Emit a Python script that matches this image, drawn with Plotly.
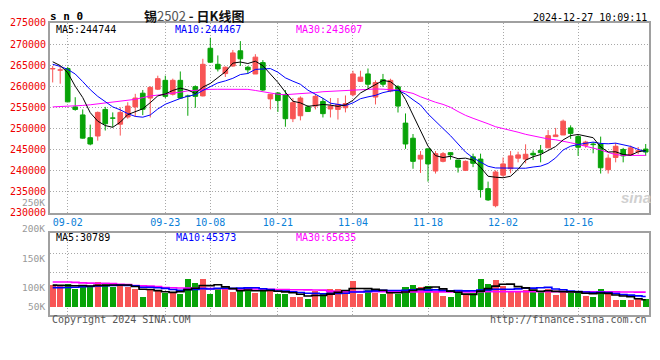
import plotly.graph_objects as go

# ---------------- data ----------------
dates = ["08-29", "08-30",
         "09-02", "09-03", "09-04", "09-05", "09-06",
         "09-09", "09-10", "09-11", "09-12", "09-13",
         "09-18", "09-19", "09-20",
         "09-23", "09-24", "09-25", "09-26", "09-27",
         "09-30",
         "10-08", "10-09", "10-10", "10-11",
         "10-14", "10-15", "10-16", "10-17", "10-18",
         "10-21", "10-22", "10-23", "10-24", "10-25",
         "10-28", "10-29", "10-30", "10-31", "11-01",
         "11-04", "11-05", "11-06", "11-07", "11-08",
         "11-11", "11-12", "11-13", "11-14", "11-15",
         "11-18", "11-19", "11-20", "11-21", "11-22",
         "11-25", "11-26", "11-27", "11-28", "11-29",
         "12-02", "12-03", "12-04", "12-05", "12-06",
         "12-09", "12-10", "12-11", "12-12", "12-13",
         "12-16", "12-17", "12-18", "12-19", "12-20",
         "12-23", "12-24", "12-25", "12-26", "12-27"]

opens = [264100, 263800, 264200, 255100, 253200, 247800, 248200, 254500, 252500, 251000,
         252700, 255100, 258350, 257200, 259300, 261400, 258100, 261400, 257700, 259900,
         257700, 269000, 265200, 263000, 264800, 268400, 264500, 262900, 265600, 257000,
         258400, 258000, 252300, 253000, 255100, 255300, 256400, 254600, 254500, 254900,
         257970, 261170, 262920, 257430, 261550, 258880, 259870, 251260, 247680, 242730,
         245160, 239900, 242190, 244250, 242500, 240060, 243260, 242730, 235720, 231680,
         238920, 240440, 242950, 242730, 244100, 244780, 245390, 248060, 248440, 250120,
         248060, 246000, 246300, 246310, 240210, 243110, 245010, 243720, 244500, 245100]
highs = [264800, 264600, 264600, 257400, 254500, 250900, 254000, 255100, 253800, 255000,
         256200, 258200, 259110, 260000, 262500, 262500, 261800, 263500, 258000, 260200,
         266500, 271500, 267300, 264700, 268600, 270700, 264800, 267600, 266200, 258100,
         258600, 259100, 257200, 257600, 255500, 258100, 257200, 257200, 257200, 257800,
         263680, 263680, 264210, 261390, 262920, 261780, 260250, 253550, 248670, 244630,
         245160, 244630, 244400, 244300, 242500, 242400, 244020, 244020, 237390, 240060,
         243110, 244630, 244480, 246230, 244780, 246080, 249600, 250120, 252100, 250730,
         248440, 247070, 246770, 248060, 243870, 246540, 245390, 245920, 245600, 246300]
lows = [260900, 260600, 256200, 254200, 247600, 246000, 247100, 249500, 250300, 248300,
        252300, 252800, 253160, 252600, 259100, 257200, 257800, 257000, 253000, 254900,
        257600, 265600, 263500, 262200, 264600, 264800, 262900, 262900, 258900, 254500,
        253900, 250400, 251500, 251900, 253900, 254500, 252600, 252600, 252100, 253800,
        257590, 261010, 259490, 255680, 259870, 258580, 253770, 245160, 240440, 239450,
        237390, 239300, 241960, 242600, 239530, 239900, 240820, 233590, 232820, 231300,
        238540, 239370, 241960, 241730, 242500, 241960, 245390, 248060, 248440, 247530,
        243490, 245390, 244100, 239300, 239300, 241960, 241960, 243490, 243900, 243500]
closes = [264200, 263900, 256300, 254500, 247700, 246300, 253800, 251100, 252400, 253800,
          255300, 257200, 254540, 259720, 261800, 257600, 261400, 257200, 257600, 257600,
          265200, 265700, 264100, 264500, 267900, 266500, 263900, 266900, 259100, 258100,
          256600, 252300, 256100, 257200, 254000, 257600, 253500, 255300, 255700, 255900,
          262920, 262160, 260480, 260860, 260480, 261390, 255300, 246310, 242190, 243640,
          241580, 244020, 244020, 243720, 240820, 242190, 241730, 235490, 233050, 239680,
          241580, 243490, 243720, 243870, 243720, 244250, 248290, 248440, 251720, 248820,
          245540, 246770, 246150, 240670, 242950, 245770, 243490, 245390, 244700, 244400]

ma5 = [265800, 264900, 263200, 260000, 257320, 253740, 251720, 250680, 250260, 251480,
       253280, 253960, 254650, 256110, 257710, 258170, 259010, 259540, 259120, 258280,
       259800, 260660, 262040, 263420, 265480, 265740, 265380, 265940, 264860, 262900,
       260920, 258600, 256440, 256060, 255240, 255440, 255680, 255520, 255220, 255600,
       256660, 258400, 259430, 260460, 261380, 261070, 259700, 256870, 253130, 249770,
       245800, 243550, 243090, 243400, 242830, 242950, 242500, 240790, 238660, 238430,
       238310, 238660, 240300, 242470, 243280, 243810, 244770, 245710, 247280, 248300,
       248560, 248260, 247800, 245590, 244420, 244460, 243810, 243650, 244460, 244744]
ma10 = [265200, 264700, 264000, 262900, 261100, 259200, 257600, 256300, 255100, 254400,
        253510, 252840, 252660, 253190, 254600, 255730, 256490, 257100, 257620, 258000,
        258990, 259840, 260790, 261270, 261880, 262770, 263020, 263990, 264140, 264190,
        263330, 261990, 261190, 260460, 259070, 258180, 257140, 255980, 255640, 255420,
        256050, 257040, 257480, 257840, 258490, 258870, 259050, 258150, 256800, 255570,
        253440, 251630, 249980, 248270, 246300, 244380, 243020, 241940, 241030, 240630,
        240630, 240580, 240550, 240560, 240850, 241060, 241710, 243010, 244880, 245790,
        246190, 246510, 246760, 246440, 246360, 246510, 246030, 245730, 245030, 244467]
ma30 = [255100, 255150, 255250, 255350, 255450, 255600, 255800, 256000, 256200, 256400,
        256600, 256900, 257300, 257700, 257900, 258100, 258300, 258600, 258900, 259050,
        259200, 259260, 259280, 259300, 259300, 259280, 259260, 259000, 258700, 258400,
        258100, 258000, 258100, 258250, 258350, 258500, 258700, 258800, 258900, 259100,
        259200, 259300, 259350, 259350, 259300, 259200, 259100, 258700, 258300, 257500,
        256800, 256200, 255700, 255000, 254000, 253100, 252400, 251800, 251100, 250400,
        250000, 249500, 249100, 248600, 248200, 247900, 247500, 247300, 247000, 246600,
        246200, 245800, 245400, 244900, 244300, 243800, 243600, 243600, 243600, 243607]

volumes = [100200, 97200, 103100, 78100, 100200, 88400, 113400, 103100, 86900, 100200,
           88400, 78100, 41200, 81000, 73700, 63300, 63300, 58900, 125200, 107500,
           125200, 58900, 78100, 78100, 67800, 78100, 73700, 63300, 78100, 73700,
           58900, 58900, 45700, 41200, 33900, 70700, 58900, 78100, 81000, 76600,
           117800, 58900, 73700, 63300, 56000, 63300, 58900, 89900, 98700, 89900,
           94300, 70700, 50100, 45700, 63300, 53000, 63300, 125200, 103100, 120800,
           94300, 67800, 67800, 73700, 70700, 67800, 79500, 54500, 67800, 63300,
           67800, 50100, 45700, 81000, 56000, 29500, 28000, 29500, 35400, 32400]
vol_ma5 = [97500, 97200, 96000, 95000, 95800, 93400, 96600, 96600, 98400, 98400,
           98400, 91300, 79000, 77800, 72500, 67500, 64500, 68000, 76900, 83600,
           96000, 95100, 99000, 89600, 81600, 72200, 75200, 72200, 72200, 73400,
           69500, 66600, 63100, 55700, 47700, 50100, 50100, 56600, 64500, 73100,
           82500, 82500, 81600, 78100, 73900, 63000, 63000, 66300, 73400, 80100,
           86300, 88700, 80700, 70100, 64800, 56600, 55100, 70100, 81600, 93100,
           101300, 102200, 90800, 84900, 74900, 69600, 71900, 69200, 68100, 66600,
           66600, 60700, 58900, 61600, 60100, 52500, 48000, 44800, 35700, 30789]
vol_ma10 = [86000, 86000, 87000, 88000, 90000, 92000, 94000, 95000, 96000, 97100,
            95900, 94000, 87800, 88100, 85400, 82900, 77900, 73500, 77300, 78100,
            81700, 79800, 83500, 83200, 82600, 84100, 85200, 85600, 80900, 77500,
            70900, 70900, 67600, 63900, 60600, 59800, 58300, 59800, 60100, 60400,
            66300, 66300, 69100, 71300, 73500, 72800, 72800, 73900, 75700, 77000,
            74700, 75900, 73500, 71800, 72500, 71500, 71900, 75400, 75900, 79000,
            79000, 78700, 80400, 83200, 84000, 85500, 87100, 80000, 76500, 70700,
            68100, 66300, 64100, 64800, 63400, 59500, 54400, 51900, 48600, 45373]
vol_ma30 = [112000, 112000, 111500, 110000, 108000, 106500, 106000, 105500, 104500, 101000,
            100000, 96000, 94000, 93000, 91500, 87000, 85500, 84500, 84000, 83500,
            82000, 81500, 81000, 81000, 81000, 80500, 80500, 80000, 80000, 79000,
            77500, 77000, 76500, 76500, 76000, 75500, 75000, 70000, 68500, 68000,
            68000, 68000, 67800, 67500, 67500, 67500, 67000, 67000, 67000, 67000,
            67000, 67000, 67000, 66800, 66800, 67000, 67000, 67500, 67500, 68000,
            68000, 68000, 68000, 68000, 68000, 68000, 68000, 67800, 67800, 67500,
            67500, 67500, 67500, 67500, 67500, 67000, 66500, 66000, 65800, 65635]

date_ticks = ["09-02", "09-23", "10-08", "10-21", "11-04", "11-18", "12-02", "12-16"]
price_ticks = [230000, 235000, 240000, 245000, 250000, 255000, 260000, 265000, 270000, 275000]
vol_tick_labels = ["250K", "200K", "150K", "100K", "50K"]

title_text = "<b>锡</b><span style='color:#555'>2502</span> <b>-</b> <b>日K线图</b>"
symbol_text = "<b>s n 0</b>"
timestamp_text = "2024-12-27 10:09:11"
copyright_text = "Copyright 2024 SINA.COM"
url_text = "http://finance.sina.com.cn"

# ---------------- styles ----------------
RED = "#f85555"
GREEN = "#08a308"
MONO = "DejaVu Sans Mono"
GRID = "#a8a8a8"
BORDER = "#a0a0a0"
W, H = 660, 360
L, R = 50, 649


def px(x):
    return (x - L) / (R - L)


def py(y):
    return 1 - y / H


x = list(range(len(dates)))
up = [c >= o for o, c in zip(opens, closes)]
colors = [RED if u else GREEN for u in up]

fig = go.Figure()

# wicks
for flag, col in ((True, RED), (False, GREEN)):
    wx, wy = [], []
    for i in x:
        if up[i] == flag:
            wx += [i, i, None]
            wy += [lows[i], highs[i], None]
    fig.add_trace(go.Scatter(x=wx, y=wy, mode="lines", line=dict(color=col, width=1),
                             hoverinfo="skip", xaxis="x", yaxis="y"))

# bodies
fig.add_trace(go.Bar(x=x, y=[abs(c - o) for o, c in zip(opens, closes)],
                     base=[min(o, c) for o, c in zip(opens, closes)],
                     width=0.62, marker=dict(color=colors, line=dict(color=colors, width=1)),
                     hoverinfo="skip", xaxis="x", yaxis="y"))

for series, col in ((ma30, "#ff00ff"), (ma10, "#0000ff"), (ma5, "#000000")):
    fig.add_trace(go.Scatter(x=x, y=series, mode="lines", line=dict(color=col, width=1),
                             hoverinfo="skip", xaxis="x", yaxis="y"))

# volume
fig.add_trace(go.Bar(x=x, y=volumes, width=0.8, marker=dict(color=colors, line=dict(width=0)),
                     hoverinfo="skip", xaxis="x2", yaxis="y2"))
for series, col in ((vol_ma30, "#ff00ff"), (vol_ma10, "#0000ff"), (vol_ma5, "#000000")):
    fig.add_trace(go.Scatter(x=x, y=series, mode="lines", line=dict(color=col, width=1.6, shape="hvh"),
                             hoverinfo="skip", xaxis="x2", yaxis="y2"))

xrange = [-0.36, 79.44]
common_axis = dict(showline=True, mirror=True, linecolor=BORDER, linewidth=2, zeroline=False,
                   showgrid=True, gridcolor=GRID, griddash="1px,2px", gridwidth=1)

fig.update_layout(
    width=W, height=H,
    margin=dict(l=L, r=W - R, t=0, b=0),
    paper_bgcolor="white", plot_bgcolor="white",
    showlegend=False, barmode="overlay", bargap=0,
    hovermode=False,
    xaxis=dict(domain=[0, 1], range=xrange, anchor="y",
               tickvals=[dates.index(d) for d in date_ticks], ticktext=date_ticks,
               tickfont=dict(family=MONO, size=10, color="#0a80d8"),
               ticks="", ticklabelstandoff=-1, **common_axis),
    yaxis=dict(domain=[py(213.3), py(17.5)], range=[230000, 275000], anchor="x",
               tickvals=price_ticks, ticktext=[str(v) for v in price_ticks],
               tickfont=dict(family=MONO, size=10, color="#ee0000"), **common_axis),
    xaxis2=dict(domain=[0, 1], range=xrange, anchor="y2", matches="x",
                tickvals=[dates.index(d) for d in date_ticks], showticklabels=False, **common_axis),
    yaxis2=dict(domain=[py(318.3), py(234.3)], range=[-36700, 334600], anchor="x2",
                tickvals=[153400, 241800], showticklabels=False, **common_axis),
)

ann = []


def text(t, x0, y0, xa="left", size=10, color="#000", family=MONO):
    ann.append(dict(text=t, x=px(x0), y=py(y0), xref="paper", yref="paper", xanchor=xa,
                    yanchor="middle", showarrow=False, font=dict(family=family, size=size, color=color)))


text(symbol_text, 48, 11, size=11)
text(title_text, 194, 10, xa="center", size=13, color="#111", family="Noto Sans CJK SC")
text(timestamp_text, 649, 12, xa="right")
text("MA5:%d" % ma5[-1], 54, 24)
text("MA10:%d" % ma10[-1], 173, 24, color="#0000ff")
text("MA30:%d" % ma30[-1], 294, 24, color="#ff00ff")
text("MA5:%d" % vol_ma5[-1], 54, 238.5)
text("MA10:%d" % vol_ma10[-1], 174, 238.5, color="#0000ff")
text("MA30:%d" % vol_ma30[-1], 294, 238.5, color="#ff00ff")
for lab, yy in zip(vol_tick_labels, [203, 230, 260.5, 290, 310]):
    text(lab, 47, yy, xa="right", size=9.5, color="#999999")
text(copyright_text, 50, 323.5, color="#555555")
text(url_text, 649, 323.5, xa="right", color="#555555")
text("<b><i>sina</i></b>", 636, 198, xa="center", size=15, color="#d0d0d0", family="Liberation Sans")

fig.update_layout(annotations=ann)
fig.write_html("out.html", config={"displayModeBar": False, "staticPlot": True},
               post_script="document.body.style.margin='0';document.body.style.padding='0';")
